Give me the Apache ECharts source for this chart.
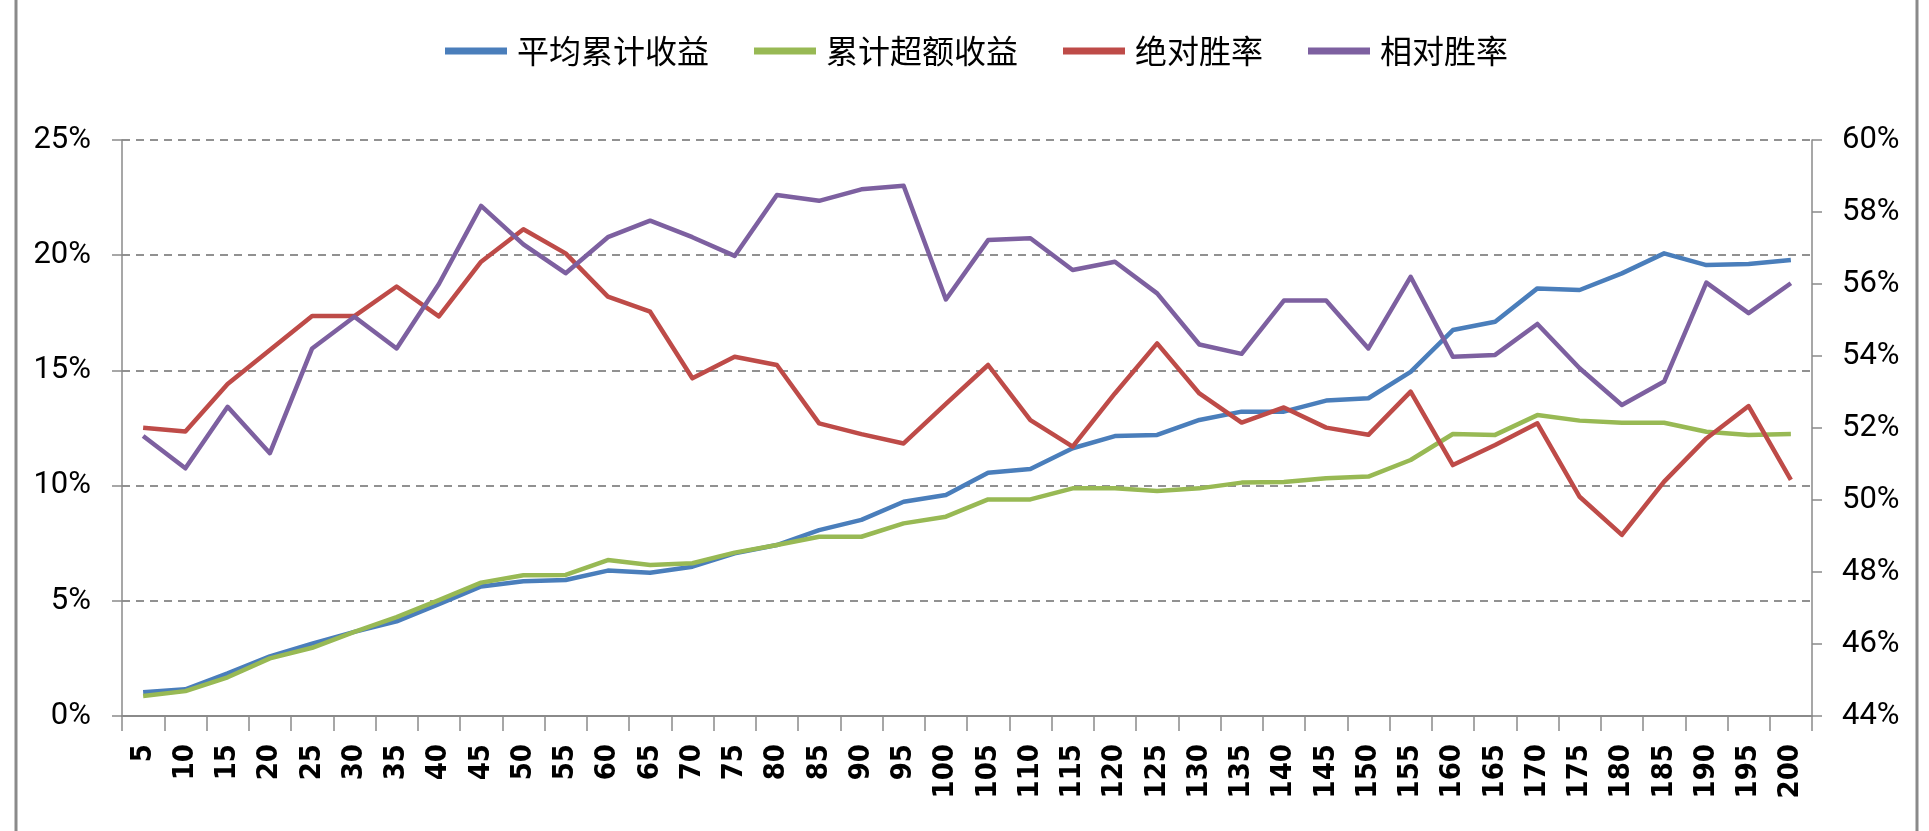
<!DOCTYPE html>
<html>
<head>
<meta charset="utf-8">
<script src="https://cdn.jsdelivr.net/npm/echarts@6/dist/echarts.min.js"></script>
<style>
html,body{margin:0;padding:0;background:#fff;}
#chart{width:1929px;height:831px;}
</style>
</head>
<body>
<div id="chart"></div>
<script>
// ---- data ----
const categories = ['5','10','15','20','25','30','35','40','45','50','55','60','65','70','75','80','85','90','95','100',
  '105','110','115','120','125','130','135','140','145','150','155','160','165','170','175','180','185','190','195','200'];
const seriesNames = ['平均累计收益', '累计超额收益', '绝对胜率', '相对胜率'];
// left axis (%)
const avgCumReturn = [1.03,1.16,1.85,2.59,3.14,3.65,4.11,4.85,5.62,5.85,5.90,6.31,6.22,6.48,7.06,7.42,8.07,8.51,9.30,9.59,
  10.56,10.72,11.62,12.15,12.20,12.85,13.21,13.21,13.69,13.79,14.94,16.75,17.11,18.56,18.49,19.21,20.08,19.57,19.62,19.79];
const cumExcessReturn = [0.87,1.08,1.68,2.50,2.96,3.65,4.29,5.03,5.79,6.11,6.12,6.77,6.55,6.63,7.09,7.42,7.78,7.78,8.36,8.65,
  9.40,9.40,9.88,9.88,9.77,9.88,10.13,10.16,10.32,10.39,11.11,12.24,12.20,13.06,12.82,12.73,12.73,12.34,12.20,12.24];
// right axis (%)
const absWinRate = [52.01,51.90,53.22,54.17,55.11,55.11,55.93,55.10,56.62,57.52,56.85,55.65,55.23,53.38,53.98,53.75,52.13,51.83,51.57,52.67,
  53.75,52.22,51.48,52.96,54.35,52.96,52.15,52.57,52.01,51.81,53.01,50.97,51.53,52.13,50.09,49.03,50.51,51.71,52.61,50.56];
const relWinRate = [51.78,50.88,52.59,51.30,54.21,55.09,54.21,56.00,58.17,57.10,56.30,57.30,57.76,57.30,56.78,58.47,58.31,58.63,58.73,55.57,
  57.22,57.27,56.39,56.62,55.74,54.32,54.06,55.54,55.54,54.21,56.20,53.98,54.03,54.89,53.66,52.64,53.29,56.04,55.19,56.02];
const leftTicks = {min: 0, max: 25, interval: 5};
const rightTicks = {min: 44, max: 60, interval: 2};

const colors = ['#4A7EBB', '#98B954', '#BE4B48', '#7D60A0'];
const font = "Roboto,'DejaVu Sans Condensed',sans-serif";

const chart = echarts.init(document.getElementById('chart'), null, {renderer: 'canvas'});
const lineSeries = (name, data, yIdx, color) => ({
  name, type: 'line', data, yAxisIndex: yIdx, symbol: 'none',
  lineStyle: {color, width: 4.5, join: 'round'}, itemStyle: {color}
});
chart.setOption({
  animation: false,
  color: colors,
  graphic: [{
    type: 'rect', silent: true, z: 100,
    shape: {x: 16, y: -10, width: 1901, height: 860},
    style: {fill: 'none', stroke: '#8a8a8a', lineWidth: 3}
  }],
  legend: {
    data: seriesNames,
    left: 445, top: 35, padding: 0,
    itemWidth: 62, itemHeight: 7, itemGap: 45,
    icon: 'rect',
    textStyle: {fontSize: 32, color: '#000', fontFamily: "'Noto Sans CJK SC',sans-serif", padding: [0,0,0,5]}
  },
  grid: {left: 122, right: 117, top: 140, bottom: 115, containLabel: false},
  xAxis: {
    type: 'category', data: categories, boundaryGap: true,
    axisLine: {show: true, lineStyle: {color: '#8a8a8a', width: 2}},
    axisTick: {show: true, interval: 0, length: 15, lineStyle: {color: '#8a8a8a', width: 1.5}},
    axisLabel: {interval: 0, rotate: 90, margin: 28, fontSize: 29, fontWeight: 'bold', color: '#000',
      fontFamily: "'DejaVu Sans Condensed','DejaVu Sans',sans-serif"}
  },
  yAxis: [{
    type: 'value', position: 'left', min: leftTicks.min, max: leftTicks.max, interval: leftTicks.interval,
    axisLine: {show: true, lineStyle: {color: '#8a8a8a', width: 1.5}},
    axisTick: {show: true, length: 10, lineStyle: {color: '#8a8a8a', width: 1.5}},
    axisLabel: {formatter: v => v + '%', fontSize: 31, color: '#000', margin: 31, fontFamily: font},
    splitLine: {show: true, lineStyle: {color: '#6e6e6e', width: 1.5, type: [8, 6]}}
  }, {
    type: 'value', position: 'right', min: rightTicks.min, max: rightTicks.max, interval: rightTicks.interval,
    axisLine: {show: true, lineStyle: {color: '#8a8a8a', width: 1.5}},
    axisTick: {show: true, length: 10, lineStyle: {color: '#8a8a8a', width: 1.5}},
    axisLabel: {formatter: v => v + '%', fontSize: 31, color: '#000', margin: 30, fontFamily: font},
    splitLine: {show: false}
  }],
  series: [
    lineSeries(seriesNames[0], avgCumReturn, 0, colors[0]),
    lineSeries(seriesNames[1], cumExcessReturn, 0, colors[1]),
    lineSeries(seriesNames[2], absWinRate, 1, colors[2]),
    lineSeries(seriesNames[3], relWinRate, 1, colors[3])
  ]
});
</script>
</body>
</html>
